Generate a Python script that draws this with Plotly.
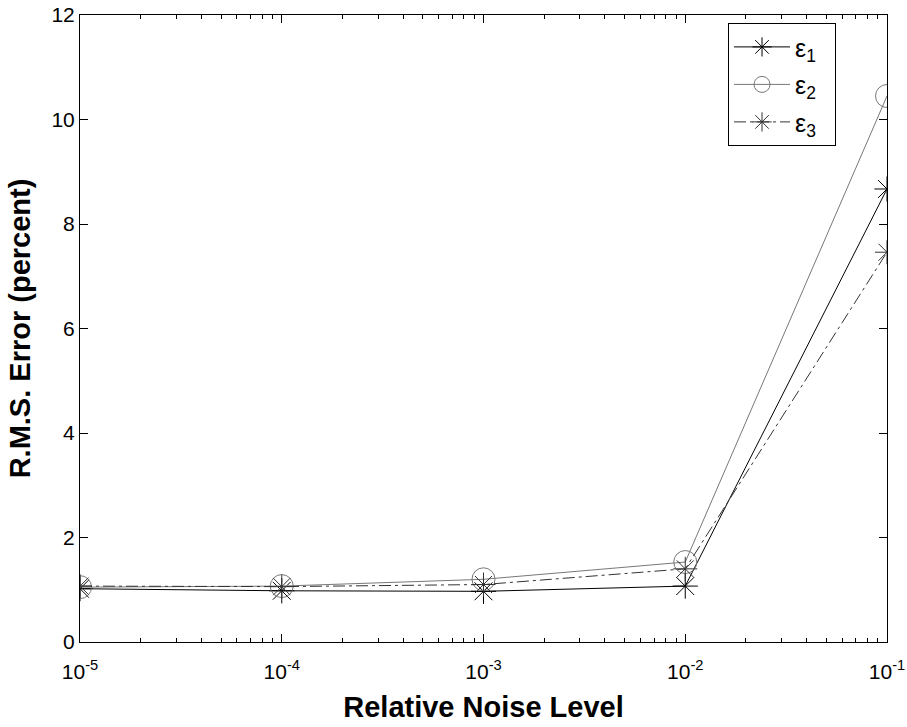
import plotly.graph_objects as go

noise = [1e-5, 1e-4, 1e-3, 1e-2, 1e-1]
eps1 = [1.02, 0.98, 0.97, 1.07, 8.67]
eps2 = [1.05, 1.07, 1.20, 1.53, 10.45]
eps3 = [1.07, 1.06, 1.10, 1.40, 7.46]
names = ["ε<sub>1</sub>&nbsp;&nbsp;", "ε<sub>2</sub>&nbsp;&nbsp;", "ε<sub>3</sub>&nbsp;&nbsp;"]
xticks = [1e-5, 1e-4, 1e-3, 1e-2, 1e-1]
xticklabels = ["10<sup>-5</sup>", "10<sup>-4</sup>", "10<sup>-3</sup>", "10<sup>-2</sup>", "10<sup>-1</sup>"]
yticks = [0, 2, 4, 6, 8, 10, 12]

font = "Liberation Sans, Arial, sans-serif"

fig = go.Figure()
fig.add_trace(go.Scatter(x=noise, y=eps1, name=names[0], legendgroup="a", mode="lines+markers",
                         line=dict(color="#000000", width=1),
                         marker=dict(symbol="asterisk-open", size=21, color="#000000",
                                     line=dict(color="#000000", width=1))))
fig.add_trace(go.Scatter(x=noise, y=eps2, name=names[1], legendgroup="b", mode="lines+markers",
                         line=dict(color="#777777", width=1),
                         marker=dict(symbol="circle-open", size=23, color="#777777",
                                     line=dict(color="#777777", width=1))))
fig.add_trace(go.Scatter(x=noise, y=eps3, name=names[2], legendgroup="c", mode="lines+markers",
                         line=dict(color="#333333", width=1, dash="12px,4px,3px,4px"),
                         marker=dict(symbol="asterisk-open", size=20, color="#333333",
                                     line=dict(color="#333333", width=1))))

fig.update_layout(
    width=907, height=727,
    margin=dict(l=80, r=20, t=15, b=85),
    paper_bgcolor="white", plot_bgcolor="white",
    font=dict(family=font, size=21, color="black"),
    showlegend=True,
    legend=dict(x=0.803, y=0.987, xanchor="left", yanchor="top",
                bordercolor="black", borderwidth=1, bgcolor="white",
                font=dict(size=25), itemwidth=56, tracegroupgap=2),
)
fig.update_xaxes(
    type="log", range=[-5, -1], automargin=False,
    tickvals=xticks, ticktext=xticklabels, ticklabeloverflow="allow",
    ticks="inside", ticklen=8, tickcolor="black", ticklabelstandoff=11,
    showline=True, linecolor="black", linewidth=1, mirror="allticks",
    showgrid=False, zeroline=False,
    minor=dict(ticks="inside", ticklen=4, tickcolor="black", dtick="D1", showgrid=False),
    tickfont=dict(size=21),
    title=dict(text="<b>Relative Noise Level</b>", font=dict(size=29), standoff=14),
)
fig.update_yaxes(
    range=[0, 12], tickvals=yticks, automargin=False, ticklabeloverflow="allow",
    ticks="inside", ticklen=8, tickcolor="black",
    showline=True, linecolor="black", linewidth=1, mirror="allticks",
    showgrid=False, zeroline=False,
    tickfont=dict(size=21),
    title=dict(text="<b>R.M.S. Error (percent)</b>", font=dict(size=29), standoff=12),
)

# remove the browser's default 8px body margin so the figure fills the window exactly
fig.write_html("out.html",
               config={"displayModeBar": False},
               post_script="document.body.style.margin='0';document.body.style.overflow='hidden';")
